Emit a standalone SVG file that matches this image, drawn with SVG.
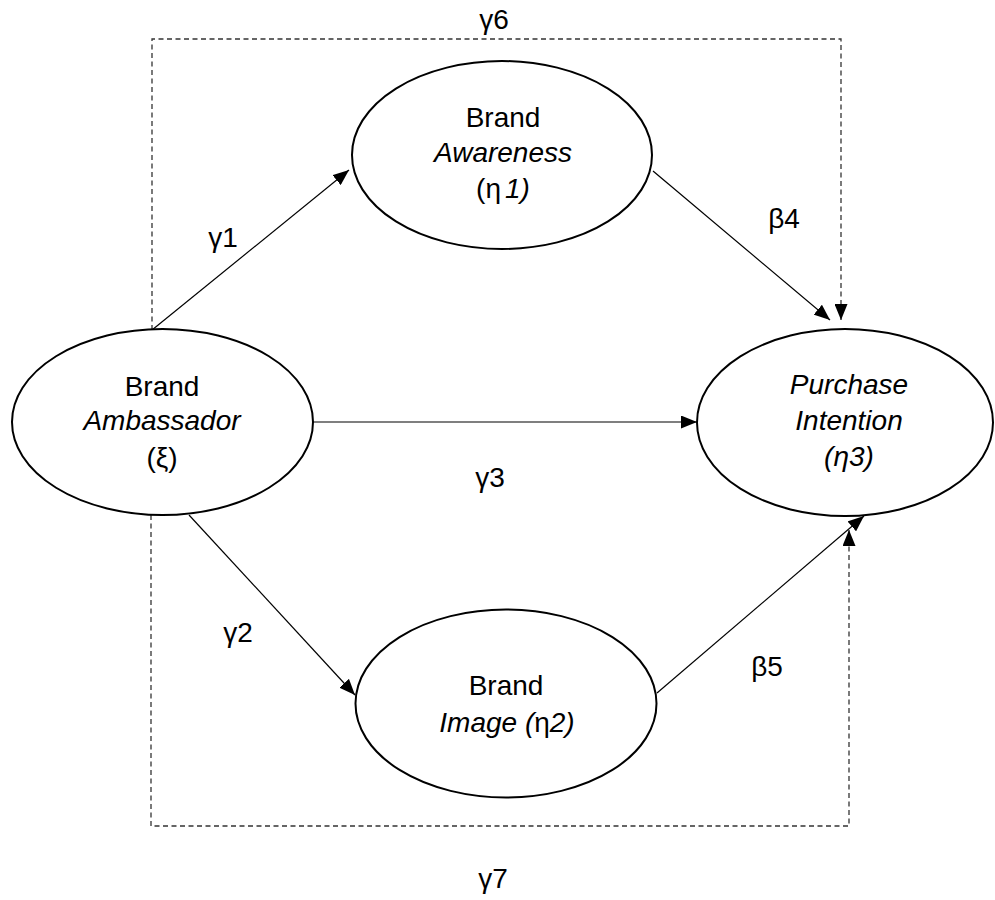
<svg xmlns="http://www.w3.org/2000/svg" width="995" height="900" viewBox="0 0 995 900">
  <style>
    .node { fill: #ffffff; stroke: #000000; stroke-width: 2; }
    .lbl { font-family: "Liberation Sans", Arial, sans-serif; font-size: 28px; fill: #000000; text-anchor: middle; }
    .it { font-style: italic; }
    .edge { fill: none; stroke: #000000; stroke-width: 1.2; marker-end: url(#head); }
    .dash { fill: none; stroke: #333333; stroke-width: 1.3; stroke-dasharray: 5 3.5; marker-end: url(#head); }
  </style>
  <defs>
    <marker id="head" markerUnits="userSpaceOnUse" markerWidth="17" markerHeight="13" refX="16" refY="6.5" orient="auto">
      <path d="M0,0 L16,6.5 L0,13 Z" fill="#000000"/>
    </marker>
  </defs>
  <rect width="995" height="900" fill="#ffffff"/>

  <!-- connectors -->
  <g id="connectors">
    <line class="edge" x1="152" y1="330" x2="349" y2="170"/>
    <line class="edge" x1="313" y1="422" x2="697" y2="422"/>
    <line class="edge" x1="189" y1="515" x2="355" y2="695"/>
    <line class="edge" x1="653" y1="171" x2="830" y2="320"/>
    <line class="edge" x1="657" y1="693" x2="864" y2="516"/>
    <path class="dash" d="M152,330 V39 H841 V320"/>
    <path class="dash" d="M151,515 V826 H849 V530"/>
  </g>

  <!-- path labels -->
  <g id="edge-labels" class="lbl">
    <text x="494" y="29">γ6</text>
    <text x="223" y="247">γ1</text>
    <text x="784" y="228">β4</text>
    <text x="490" y="487">γ3</text>
    <text x="238" y="642">γ2</text>
    <text x="767" y="676">β5</text>
    <text x="493" y="888">γ7</text>
  </g>

  <g id="awareness">
    <ellipse class="node" cx="502" cy="155" rx="150" ry="94"/>
    <text class="lbl" x="503" y="127">Brand</text>
    <text class="lbl it" x="503" y="162">Awareness</text>
    <text class="lbl" x="503" y="198">(η<tspan class="it" dx="4">1)</tspan></text>
  </g>

  <g id="ambassador">
    <ellipse class="node" cx="162.5" cy="422" rx="150.5" ry="93"/>
    <text class="lbl" x="162" y="396">Brand</text>
    <text class="lbl it" x="162" y="430">Ambassador</text>
    <text class="lbl" x="162" y="467">(ξ)</text>
  </g>

  <g id="purchase">
    <ellipse class="node" cx="845" cy="422.5" rx="148" ry="93.5"/>
    <text class="lbl it" x="849" y="394">Purchase</text>
    <text class="lbl it" x="849" y="430">Intention</text>
    <text class="lbl it" x="849" y="466">(η3)</text>
  </g>

  <g id="image">
    <ellipse class="node" cx="506" cy="703.5" rx="150.5" ry="94"/>
    <text class="lbl" x="506" y="695">Brand</text>
    <text class="lbl" x="507" y="732"><tspan class="it">Image (</tspan>η<tspan class="it">2)</tspan></text>
  </g>
</svg>
